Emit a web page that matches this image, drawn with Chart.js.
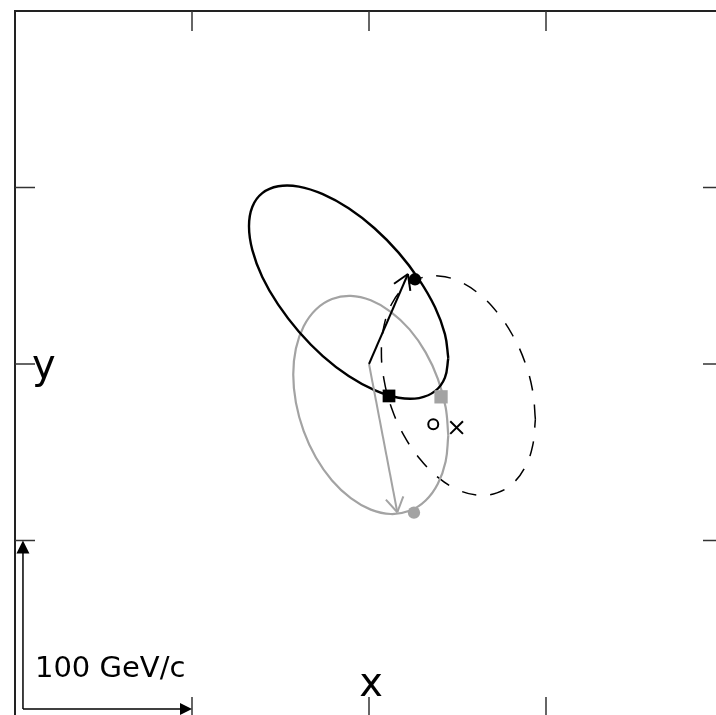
<!DOCTYPE html>
<html>
<head>
<meta charset="utf-8">
<script src="https://cdn.jsdelivr.net/npm/chart.js@4"></script>
<style>
    html, body { margin: 0; padding: 0; background: #fff; overflow: hidden; }
    #wrap { position: absolute; left: 0; top: 0; width: 740px; height: 740px; }
</style>
</head>
<body>
<div id="wrap"><canvas id="momentumChart" width="740" height="740"></canvas></div>
<script>
// Tick positions and labels (momentum plane, GeV/c)
var tickValues = [100, 200, 300];
var axisLabels = ['x', 'y'];
var scaleBarLabel = '100 GeV/c';
var scaleBarOrigin = [4.5, 4.5];
var scaleBarLength = 100;

// Black solid ellipse (going round once)
var blackEllipseX = [244.8, 242.9, 237.3, 228.3, 216.7, 203.1, 188.5, 173.9, 160.4, 148.7, 139.7, 134.1, 132.2, 134.1, 139.7, 148.7, 160.4, 173.9, 188.5, 203.1, 216.7, 228.3, 237.3, 242.9, 244.8];
var blackEllipseY = [203.4, 216.9, 232.1, 247.8, 263.1, 276.9, 288.2, 296.2, 300.5, 300.7, 296.8, 289.1, 278.0, 264.5, 249.3, 233.6, 218.3, 204.5, 193.2, 185.2, 180.9, 180.7, 184.6, 192.3, 203.4];

// Grey solid ellipse
var greyEllipseX = [244.8, 243.3, 238.9, 232.0, 222.9, 212.3, 201.0, 189.7, 179.1, 170.0, 163.1, 158.7, 157.2, 158.7, 163.1, 170.0, 179.1, 189.7, 201.0, 212.3, 222.9, 232.0, 238.9, 243.3, 244.8];
var greyEllipseY = [159.6, 175.5, 191.6, 206.6, 219.6, 229.6, 236.1, 238.6, 236.8, 230.9, 221.4, 208.8, 194.0, 178.1, 162.0, 147.0, 134.0, 124.0, 117.5, 115.0, 116.8, 122.7, 132.2, 144.8, 159.6];

// Dashed ellipse
var dashedEllipseX = [294.0, 292.5, 288.2, 281.3, 272.3, 261.8, 250.5, 239.2, 228.8, 219.7, 212.8, 208.5, 207.0, 208.5, 212.8, 219.7, 228.8, 239.2, 250.5, 261.8, 272.3, 281.3, 288.2, 292.5, 294.0];
var dashedEllipseY = [168.6, 184.6, 200.7, 216.0, 229.4, 240.0, 247.0, 249.9, 248.6, 243.2, 234.0, 221.7, 207.0, 191.0, 174.9, 159.6, 146.2, 135.6, 128.6, 125.7, 127.0, 132.4, 141.6, 153.9, 168.6];

// Vectors from the origin
var vectorOrigin = [200, 200];
var blackVectorTip = [222, 251];
var greyVectorTip = [216, 116];

// Markers
var blackDot = [226.0, 248.0];
var greyDot = [225.4, 115.8];
var blackSquare = [211.3, 181.9];
var greySquare = [240.7, 181.4];
var openCircle = [236.3, 165.9];
var crossMark = [249.5, 164.0];

var GREY = '#a3a3a3';

function toPoints(xs, ys) {
    return xs.map(function (x, i) { return { x: x, y: ys[i] }; });
}
function onePoint(p) {
    return [{ x: p[0], y: p[1] }];
}

// draws a line between two canvas points
function seg(ctx, x1, y1, x2, y2) {
    ctx.beginPath();
    ctx.moveTo(x1, y1);
    ctx.lineTo(x2, y2);
    ctx.stroke();
}

// open "->" head at the end of a vector dataset
function openHead(ctx, meta, color) {
    var p0 = meta.data[0], p1 = meta.data[1];
    var ang = Math.atan2(p0.y - p1.y, p0.x - p1.x);
    var len = 17, spread = 0.55;
    ctx.strokeStyle = color;
    ctx.lineWidth = 2;
    seg(ctx, p1.x, p1.y, p1.x + len * Math.cos(ang + spread), p1.y + len * Math.sin(ang + spread));
    seg(ctx, p1.x, p1.y, p1.x + len * Math.cos(ang - spread), p1.y + len * Math.sin(ang - spread));
}

var framePlugin = {
    id: 'frame',
    afterDatasetsDraw: function (chart) {
        var ctx = chart.ctx, a = chart.chartArea;
        var xs = chart.scales.x, ys = chart.scales.y;
        ctx.save();

        openHead(ctx, chart.getDatasetMeta(6), '#000');
        openHead(ctx, chart.getDatasetMeta(7), GREY);

        // box
        ctx.strokeStyle = '#222';
        ctx.lineWidth = 2;
        ctx.strokeRect(a.left, a.top, a.right - a.left, a.bottom - a.top);

        // inward ticks on all four sides
        ctx.lineWidth = 1.5;
        ctx.strokeStyle = '#333';
        tickValues.forEach(function (v) {
            var px = xs.getPixelForValue(v), py = ys.getPixelForValue(v);
            seg(ctx, px, a.top, px, a.top + 20);
            seg(ctx, px, a.bottom, px, a.bottom - 20);
            seg(ctx, a.left, py, a.left + 20, py);
            seg(ctx, a.right, py, a.right - 20, py);
        });

        // axis names
        ctx.fillStyle = '#000';
        ctx.font = '40px "DejaVu Sans"';
        ctx.textAlign = 'center';
        ctx.textBaseline = 'alphabetic';
        ctx.fillText(axisLabels[0], xs.getPixelForValue(200) + 2, 696);
        ctx.textAlign = 'left';
        ctx.fillText(axisLabels[1], a.left + 17, ys.getPixelForValue(200) + 14);

        // scale bar
        var ox = xs.getPixelForValue(scaleBarOrigin[0]), oy = ys.getPixelForValue(scaleBarOrigin[1]);
        var ex = xs.getPixelForValue(scaleBarLength);
        var ey = ys.getPixelForValue(scaleBarLength);
        ctx.strokeStyle = '#000';
        ctx.lineWidth = 1.5;
        seg(ctx, ox, oy, ex - 10, oy);
        seg(ctx, ox, oy, ox, ey + 10);
        ctx.beginPath();
        ctx.moveTo(ex, oy);
        ctx.lineTo(ex - 12, oy - 6);
        ctx.lineTo(ex - 12, oy + 6);
        ctx.closePath();
        ctx.fill();
        ctx.beginPath();
        ctx.moveTo(ox, ey);
        ctx.lineTo(ox - 6.5, ey + 13);
        ctx.lineTo(ox + 6.5, ey + 13);
        ctx.closePath();
        ctx.fill();

        ctx.font = '29px "DejaVu Sans"';
        ctx.textAlign = 'left';
        ctx.fillText(scaleBarLabel, ox + 12, 677);

        ctx.restore();
    }
};

var ctx = document.getElementById('momentumChart').getContext('2d');
new Chart(ctx, {
    type: 'scatter',
    data: {
        datasets: [
            { data: onePoint(blackDot), pointStyle: 'circle', pointRadius: 6.2, backgroundColor: '#000', borderWidth: 0 },
            { data: onePoint(greyDot), pointStyle: 'circle', pointRadius: 6.2, backgroundColor: GREY, borderWidth: 0 },
            { data: onePoint(blackSquare), pointStyle: 'rect', pointRadius: 9, backgroundColor: '#000', borderWidth: 0 },
            { data: onePoint(greySquare), pointStyle: 'rect', pointRadius: 9.4, backgroundColor: GREY, borderWidth: 0 },
            { data: onePoint(openCircle), pointStyle: 'circle', pointRadius: 5, backgroundColor: 'rgba(0,0,0,0)', borderColor: '#000', borderWidth: 2 },
            { data: onePoint(crossMark), pointStyle: 'crossRot', pointRadius: 9, borderColor: '#000', borderWidth: 2 },
            // vectors
            { data: [{ x: vectorOrigin[0], y: vectorOrigin[1] }, { x: blackVectorTip[0], y: blackVectorTip[1] }],
              showLine: true, borderColor: '#000', borderWidth: 2, pointRadius: 0 },
            { data: [{ x: vectorOrigin[0], y: vectorOrigin[1] }, { x: greyVectorTip[0], y: greyVectorTip[1] }],
              showLine: true, borderColor: GREY, borderWidth: 2, pointRadius: 0 },
            // ellipses
            { data: toPoints(blackEllipseX, blackEllipseY), showLine: true, tension: 0.4,
              borderColor: '#000', borderWidth: 2.4, pointRadius: 0 },
            { data: toPoints(greyEllipseX, greyEllipseY), showLine: true, tension: 0.4,
              borderColor: GREY, borderWidth: 2.2, pointRadius: 0 },
            { data: toPoints(dashedEllipseX, dashedEllipseY), showLine: true, tension: 0.4,
              borderColor: '#000', borderWidth: 1.5, borderDash: [15, 14], pointRadius: 0 }
        ]
    },
    options: {
        responsive: false,
        animation: false,
        devicePixelRatio: 1,
        layout: { padding: { left: 15, top: 9, right: 17, bottom: 23 } },
        scales: {
            x: { type: 'linear', min: 0, max: 400, display: false },
            y: { type: 'linear', min: 0, max: 400, display: false }
        },
        plugins: {
            legend: { display: false },
            tooltip: { enabled: false }
        }
    },
    plugins: [framePlugin]
});
</script>
</body>
</html>
